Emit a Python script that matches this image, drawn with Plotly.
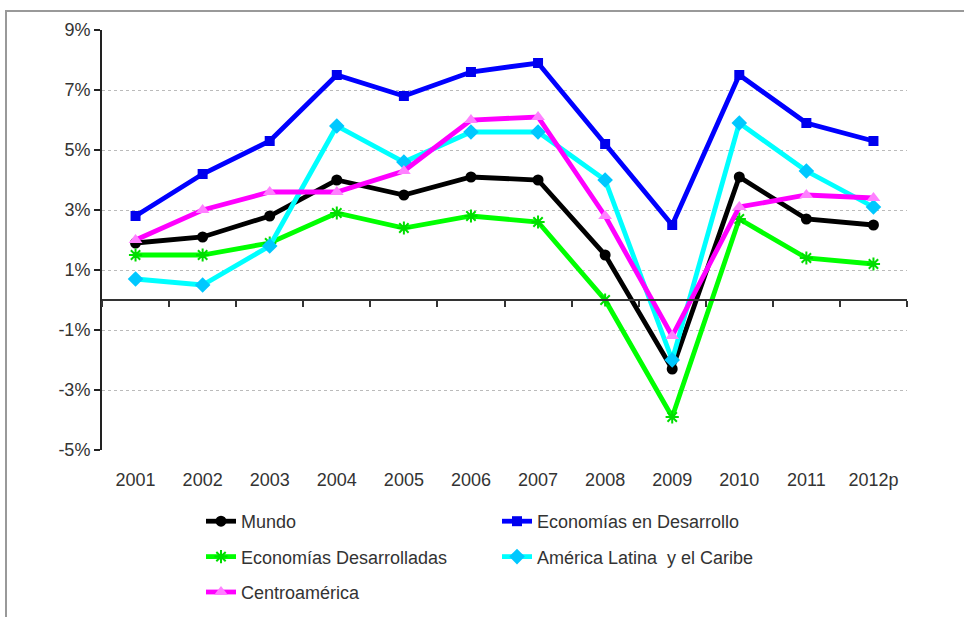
import plotly.graph_objects as go

years = ["2001", "2002", "2003", "2004", "2005", "2006", "2007", "2008", "2009", "2010", "2011", "2012p"]
mundo = [1.9, 2.1, 2.8, 4.0, 3.5, 4.1, 4.0, 1.5, -2.3, 4.1, 2.7, 2.5]
econ_desarrollo = [2.8, 4.2, 5.3, 7.5, 6.8, 7.6, 7.9, 5.2, 2.5, 7.5, 5.9, 5.3]
econ_desarrolladas = [1.5, 1.5, 1.9, 2.9, 2.4, 2.8, 2.6, 0.0, -3.9, 2.7, 1.4, 1.2]
america_latina = [0.7, 0.5, 1.8, 5.8, 4.6, 5.6, 5.6, 4.0, -2.0, 5.9, 4.3, 3.1]
centroamerica = [2.0, 3.0, 3.6, 3.6, 4.3, 6.0, 6.1, 2.8, -1.2, 3.1, 3.5, 3.4]

y_ticks = [-5, -3, -1, 1, 3, 5, 7, 9]
y_labels = ["-5%", "-3%", "-1%", "1%", "3%", "5%", "7%", "9%"]

FONT = "Liberation Sans, Arial, sans-serif"
TXT = "#333333"
W, H = 964, 617
L, R, T, B = 102, 57, 30, 167
PW = W - L - R

series = [
    ("Mundo", mundo, "#000000", "circle", "#000000", "legend", 11),
    ("Economías en Desarrollo", econ_desarrollo, "#0000FF", "square", "#0000EE", "legend2", 10),
    ("Economías Desarrolladas", econ_desarrolladas, "#00FF00", "asterisk-open", "#00DD00", "legend", 11),
    ("América Latina  y el Caribe", america_latina, "#00FFFF", "diamond", "#00C8FF", "legend2", 12),
    ("Centroamérica", centroamerica, "#FF00FF", "triangle-up", "#FF80FF", "legend", 12),
]

fig = go.Figure()
for name, vals, col, sym, mcol, leg, msize in series:
    marker = dict(symbol=sym, size=msize, color=mcol)
    if sym == "asterisk-open":
        marker["line"] = dict(color=mcol, width=2)
    fig.add_trace(go.Scatter(
        x=years, y=vals, name=name, mode="lines+markers",
        line=dict(color=col, width=4.8),
        marker=marker, legend=leg, legendgroup=name,
    ))

# invisible helper trace for the zero-crossing category axis
fig.add_trace(go.Scatter(x=years, y=mundo, xaxis="x2", yaxis="y", mode="lines",
                         opacity=0, showlegend=False, hoverinfo="skip"))

leg_common = dict(xref="paper", yref="container", xanchor="left", yanchor="top",
                  orientation="v", tracegroupgap=9, bgcolor="rgba(0,0,0,0)",
                  font=dict(family=FONT, size=18, color=TXT))

fig.update_layout(
    width=W, height=H,
    margin=dict(l=L, r=R, t=T, b=B),
    paper_bgcolor="white", plot_bgcolor="white",
    font=dict(family=FONT, size=18, color=TXT),
    showlegend=True,
    xaxis=dict(
        type="category", categoryorder="array", categoryarray=years,
        range=[-0.5, 11.5], showline=False, ticks="", showgrid=False, zeroline=False,
        tickfont=dict(family=FONT, size=18, color=TXT), ticklabelstandoff=17,
    ),
    xaxis2=dict(
        type="category", categoryorder="array", categoryarray=years,
        overlaying="x", anchor="free", position=5 / 14,
        range=[-0.5, 11.5], showline=True, linecolor="#333333", linewidth=2,
        ticks="outside", tickson="boundaries", ticklen=6, tickwidth=2, tickcolor="#333333",
        showticklabels=False, showgrid=False, zeroline=False,
    ),
    yaxis=dict(
        range=[-5, 9], tickvals=y_ticks, ticktext=y_labels,
        showline=True, linecolor="#222222", linewidth=2,
        ticks="outside", ticklen=6, tickwidth=2, tickcolor="#222222",
        showgrid=True, gridcolor="#BBBBBB", griddash="dot", gridwidth=1,
        zeroline=False, tickfont=dict(family=FONT, size=18, color=TXT),
    ),
    legend=dict(x=(201 - L) / PW, y=1 - 503 / H, **leg_common),
    legend2=dict(x=(497 - L) / PW, y=1 - 503 / H, **leg_common),
    shapes=[dict(type="rect", xref="paper", yref="paper",
                 x0=(6 - L) / PW, x1=1.2, y0=-0.6, y1=(450 - 11) / 420,
                 line=dict(color="#999999", width=2), layer="below")],
)

fig.write_html("out.html", config={"displayModeBar": False},
               post_script="document.body.style.margin='0';")
